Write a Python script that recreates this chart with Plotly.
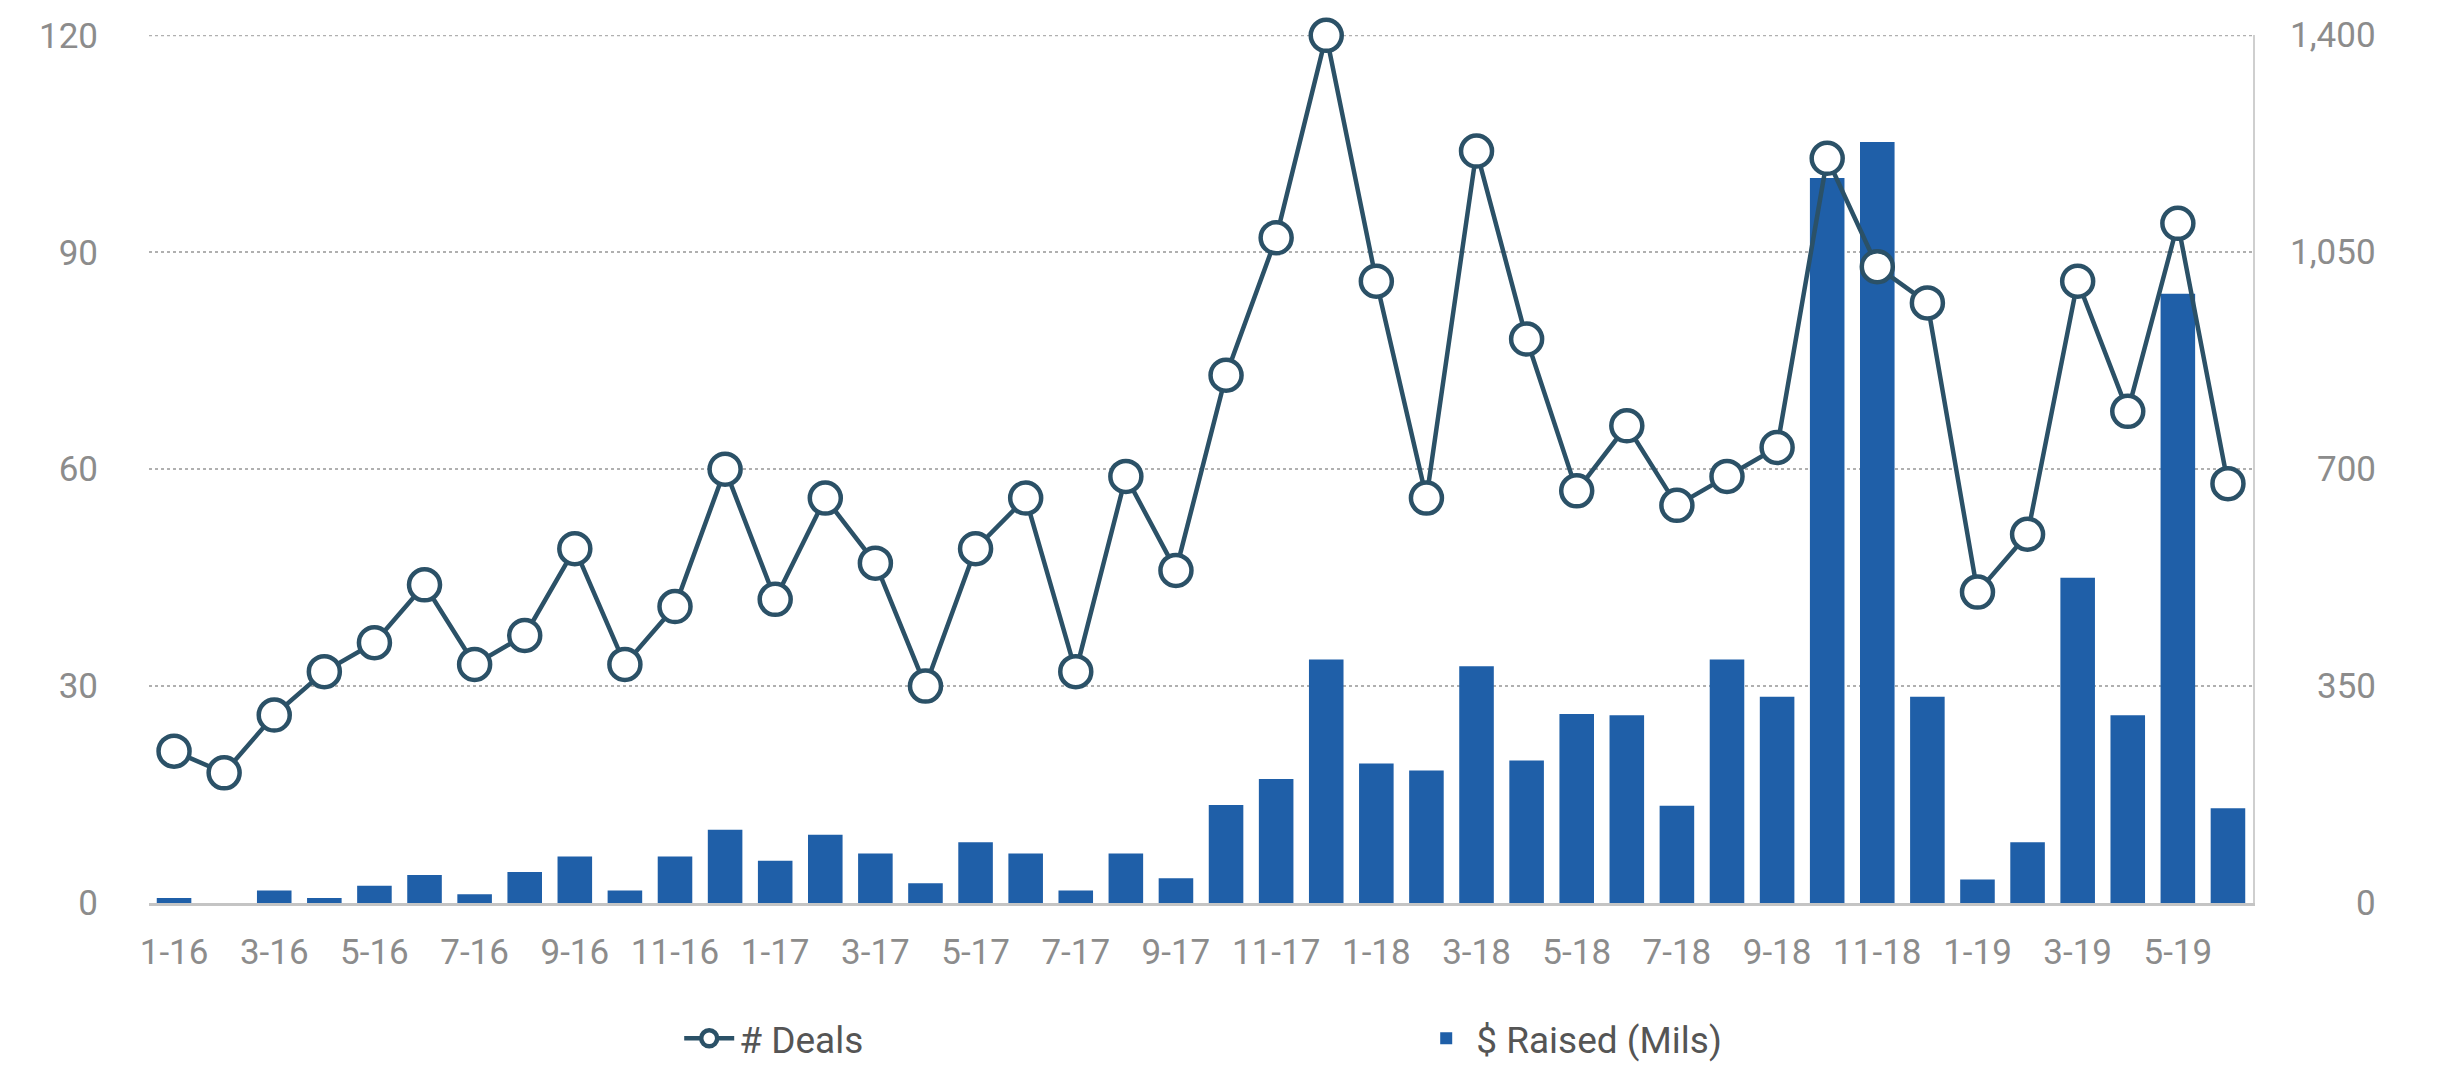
import plotly.graph_objects as go

months = [f"{m}-{y}" for y in (16, 17, 18) for m in range(1, 13)] + [f"{m}-19" for m in range(1, 7)]

deals = [21, 18, 26, 32, 36, 44, 33, 37, 49, 33, 41, 60,
         42, 56, 47, 30, 49, 56, 32, 59, 46, 73, 92, 120,
         86, 56, 104, 78, 57, 66, 55, 59, 63, 103, 88, 83,
         43, 51, 86, 68, 94, 58]

raised = [8, 0, 20, 8, 28, 45, 14, 50, 75, 20, 75, 118,
          68, 110, 80, 32, 98, 80, 20, 80, 40, 158, 200, 393,
          225, 214, 382, 230, 305, 303, 157, 393, 333, 1170, 1228, 333,
          38, 98, 525, 303, 983, 153]

left_ticks = [0, 30, 60, 90, 120]
right_ticks = [0, 350, 700, 1050, 1400]
right_tick_text = ["0", "350", "700", "1,050", "1,400"]

FONT = "Roboto"
TICK_COLOR = "#8c8c8c"
LINE_COLOR = "#2b5167"
BAR_COLOR = "#1f5fa8"
GRID_COLOR = "#b0b0b0"

fig = go.Figure()

fig.add_trace(go.Bar(
    x=months, y=raised, name="$ Raised (Mils)",
    marker=dict(color=BAR_COLOR, line=dict(width=0)),
    yaxis="y",
))

fig.add_trace(go.Scatter(
    x=months, y=deals, name="# Deals", mode="lines+markers",
    line=dict(color=LINE_COLOR, width=4.5),
    marker=dict(symbol="circle", size=31, color="white",
                line=dict(color=LINE_COLOR, width=4.5)),
    yaxis="y2", cliponaxis=False,
))

annotations = []
for v, t in zip(right_ticks, right_tick_text):
    annotations.append(dict(
        x=1, xref="paper", xshift=125, xanchor="right",
        y=v, yref="y", yanchor="middle",
        text=t, showarrow=False,
        font=dict(family=FONT, size=35, color=TICK_COLOR),
    ))

# top gridline (plotly omits the gridline at the very edge of the range)
shapes = [dict(type="line", xref="paper", x0=0, x1=1,
               yref="y2", y0=left_ticks[-1], y1=left_ticks[-1],
               line=dict(color=GRID_COLOR, width=2, dash="dot"), layer="below")]

fig.update_layout(
    width=2458, height=1066,
    margin=dict(l=141, r=213, t=27, b=171, autoexpand=False),
    paper_bgcolor="white", plot_bgcolor="white",
    bargap=0.31,
    showlegend=True,
    legend=dict(
        orientation="h", x=0.252, xanchor="left",
        yref="container", y=0.033, yanchor="middle",
        font=dict(family=FONT, size=37, color="#555555"),
        traceorder="reversed", entrywidth=672, itemwidth=50,
    ),
    xaxis=dict(
        type="category",
        tickmode="array", tickvals=months[::2], ticktext=months[::2],
        tickfont=dict(family=FONT, size=35, color=TICK_COLOR),
        showgrid=False, showline=True, linecolor="#c4c4c4", linewidth=3,
        ticks="", ticklabelstandoff=16,
        range=[-0.5, len(months) - 0.5],
    ),
    yaxis=dict(
        side="right", range=[0, 1400.6],
        tickvals=right_ticks, showticklabels=False,
        showgrid=False, showline=True, linecolor="#cfcfcf", linewidth=2,
        zeroline=False, ticks="",
    ),
    yaxis2=dict(
        overlaying="y", side="left", range=[0, 120.05],
        tickvals=left_ticks,
        tickfont=dict(family=FONT, size=35, color=TICK_COLOR),
        showgrid=True, gridcolor=GRID_COLOR, gridwidth=2, griddash="dot",
        zeroline=False, showline=False, ticks="", ticklabelstandoff=50,
    ),
    annotations=annotations,
    shapes=shapes,
)

fig.write_html("out.html")
